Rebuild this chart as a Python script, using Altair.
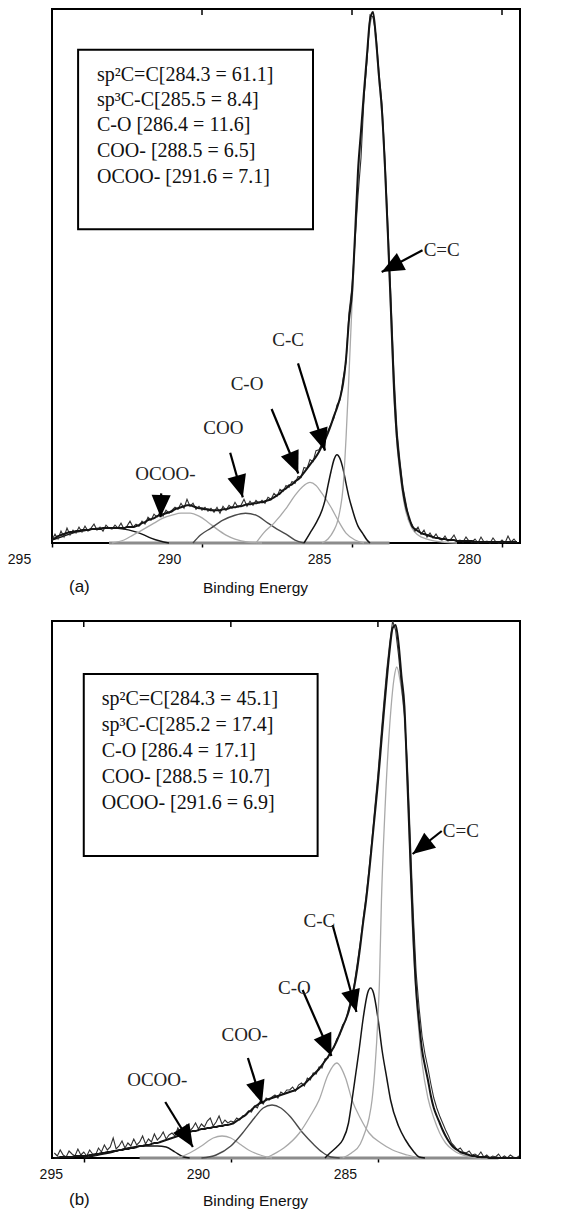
import math
import altair as alt
import pandas as pd

# ---------------- Panel (a) ----------------
A_DOMAIN = [295.0, 279.4]
A_YMAX = 538
energy_a = [round(295.0 - 0.1 * i, 1) for i in range(156)]
envelope_a = [
    4, 5, 7, 8, 9, 10, 11, 11, 12, 12,
    13, 13, 13, 14, 14, 14, 14, 15, 15, 15,
    15, 15, 15, 15, 15, 16, 16, 16, 17, 18,
    20, 21, 23, 24, 25, 27, 28, 29, 30, 31,
    32, 34, 35, 36, 37, 38, 38, 37, 36, 35,
    35, 34, 34, 33, 33, 33, 33, 34, 34, 35,
    36, 36, 37, 37, 38, 39, 39, 40, 40, 41,
    41, 42, 43, 44, 46, 48, 50, 53, 55, 58,
    59, 62, 64, 67, 71, 75, 79, 83, 87, 92,
    98, 104, 111, 119, 128, 136, 146, 160, 185, 225,
    252, 310, 375, 415, 455, 492, 527, 535, 508, 470,
    435, 378, 308, 232, 155, 105, 76, 52, 36, 26,
    17, 14, 12, 10, 9, 8, 7, 6, 5, 5,
    4, 4, 3, 3, 3, 2, 2, 2, 2, 2,
    2, 1, 1, 1, 1, 1, 1, 1, 1, 1,
    1, 1, 1, 1, 1, 1,
]
raw_a = [
    3, 9, 4, 12, 6, 15, 8, 13, 10, 16,
    11, 17, 12, 15, 19, 13, 16, 12, 18, 15,
    14, 18, 15, 20, 14, 17, 22, 16, 19, 17,
    22, 19, 26, 23, 29, 26, 31, 27, 33, 30,
    33, 36, 34, 40, 35, 44, 37, 40, 34, 37,
    33, 36, 32, 35, 31, 36, 30, 37, 33, 38,
    35, 41, 36, 38, 44, 37, 42, 38, 43, 40,
    43, 40, 46, 44, 50, 47, 54, 52, 58, 56,
    62, 60, 67, 66, 76, 75, 84, 82, 93, 94,
    100, 106, 113, 120, 126, 139, 144, 165, 182, 232,
    258, 304, 350, 388, 448, 486, 532, 530, 512, 474,
    442, 386, 318, 246, 170, 113, 82, 56, 40, 24,
    19, 12, 16, 9, 13, 6, 10, 5, 9, 4,
    3, 7, 2, 4, 8, 2, 3, 1, 6, 2,
    1, 4, 0, 6, 1, 2, 0, 5, 1, 0,
    3, 0, 7, 1, 4, 0,
]
cc_a_E = [286.0, 285.8, 285.6, 285.5, 285.4, 285.3, 285.2, 285.1, 285.0,
          284.9, 284.8, 284.7, 284.6, 284.5, 284.4, 284.3, 284.2, 284.1, 284.0,
          283.9, 283.8, 283.7, 283.6, 283.5, 283.4, 283.3, 283.2,
          283.0, 282.8, 282.5, 282.0, 281.5]
cc_a_h = [0, 4, 13, 20, 33, 55, 105, 170, 240,
          300, 365, 410, 450, 488, 522, 530, 503, 466, 430,
          374, 304, 228, 151, 100, 70, 47, 31,
          15, 8, 4, 1, 0]
csp3_a_E = [286.6, 286.4, 286.2, 286.0, 285.9, 285.8, 285.7, 285.6, 285.5, 285.4,
            285.3, 285.2, 285.1, 285.0, 284.9, 284.8, 284.65, 284.5, 284.4]
csp3_a_h = [0, 10, 20, 33, 43, 58, 72, 84, 89, 85, 75, 60, 46, 35, 25, 17, 10, 3, 0]
co_a_E = [288.2, 287.95, 287.6, 287.17, 286.9, 286.6, 286.4, 286.2, 286.0, 285.7,
          285.45, 285.2, 284.9, 284.6]
co_a_h = [0, 10, 20, 36, 48, 58, 61, 58, 50, 36, 22, 10, 3, 0]
coo_a_E = [290.3, 290.05, 289.7, 289.3, 288.9, 288.55, 288.2, 287.8, 287.5, 287.2, 286.9, 286.6]
coo_a_h = [0, 8, 15, 23, 28, 30, 28, 20, 14, 9, 3, 0]
ocoo_a_E = [293.0, 292.6, 292.3, 292.0, 291.6, 291.3, 291.0, 290.7, 290.4, 290.1,
            289.8, 289.5, 289.2, 288.9, 288.5, 288.0]
ocoo_a_h = [0, 3, 8, 13, 20, 25, 28, 30, 30, 27, 21, 14, 8, 4, 1, 0]
hump_a_E = [295.0, 294.6, 294.2, 293.8, 293.4, 293.0, 292.6, 292.3, 292.0, 291.7, 291.4, 291.1]
hump_a_h = [3, 7, 11, 13, 15, 15, 14, 12, 9, 5, 2, 0]
base_a_E = [293.1, 283.75]

legend_a = ["sp\u00b2C=C[284.3 = 61.1]", "sp\u00b3C-C[285.5 = 8.4]", "C-O [286.4 = 11.6]",
            "COO- [288.5 = 6.5]", "OCOO- [291.6 = 7.1]"]
legend_a_E = 293.5
legend_a_h = [472, 446, 421, 395, 369]
box_a = [294.13, 286.30, 497, 316]

arrow_a_names = ["C=C", "C-C", "C-O", "COO", "OCOO-"]
arrow_a_tail = [(282.65, 295), (286.80, 181), (287.68, 135), (289.06, 91), (291.36, 50)]
arrow_a_tip = [(284.01, 273), (285.90, 93), (286.79, 70), (288.64, 46), (291.38, 26)]
label_a_pos = [(282.01, 295), (287.13, 205), (288.50, 160), (289.29, 116), (291.22, 70)]

# ---------------- Panel (b) ----------------
B_DOMAIN = [296.08, 280.17]
B_YMAX = 537
energy_b = [round(296.0 - 0.1 * i, 1) for i in range(159)]
envelope_b = [
    0, 0, 1, 1, 1, 1, 1, 2, 2, 2,
    2, 2, 3, 3, 4, 4, 5, 5, 6, 6,
    7, 7, 8, 8, 9, 9, 10, 10, 11, 12,
    12, 13, 13, 14, 15, 15, 16, 17, 18, 19,
    20, 21, 22, 23, 24, 25, 26, 27, 27, 28,
    29, 29, 30, 30, 31, 31, 32, 32, 33, 33,
    34, 35, 37, 39, 41, 43, 46, 48, 51, 53,
    55, 56, 58, 59, 60, 61, 62, 63, 64, 65,
    66, 67, 68, 70, 72, 74, 77, 80, 83, 86,
    89, 93, 97, 101, 106, 111, 117, 124, 131, 138,
    146, 158, 172, 190, 212, 236, 258, 285, 315, 345,
    375, 410, 445, 478, 508, 530, 533, 515, 482, 452,
    378, 300, 225, 168, 135, 108, 92, 78, 62, 50,
    42, 35, 28, 22, 17, 13, 10, 8, 6, 5,
    4, 3, 2, 2, 1, 1, 1, 1, 0, 0,
    0, 0, 0, 0, 0, 0, 0, 0, 0,
]
raw_b = [
    5, 2, 8, 3, 1, 7, 4, 2, 9, 3,
    6, 2, 8, 4, 3, 10, 6, 13, 8, 11,
    20, 9, 12, 17, 10, 15, 12, 19, 13, 16,
    22, 14, 19, 16, 24, 18, 21, 26, 19, 23,
    25, 22, 30, 24, 28, 33, 27, 30, 35, 29,
    34, 31, 37, 40, 32, 36, 42, 34, 38, 35,
    37, 36, 40, 38, 42, 43, 47, 46, 52, 50,
    57, 54, 60, 58, 61, 63, 60, 66, 64, 68,
    68, 71, 67, 73, 75, 72, 80, 78, 85, 84,
    91, 90, 99, 100, 108, 110, 119, 123, 133, 137,
    149, 160, 175, 195, 216, 240, 263, 290, 320, 352,
    384, 420, 455, 488, 515, 537, 528, 503, 472, 444,
    395, 320, 245, 185, 150, 122, 104, 90, 74, 60,
    50, 42, 35, 28, 22, 15, 12, 8, 10, 6,
    5, 7, 3, 4, 2, 6, 1, 3, 0, 2,
    1, 4, 0, 2, 0, 3, 1, 0, 2,
]
cc_b_E = [286.2, 285.9, 285.6, 285.45, 285.3, 285.2, 285.1, 285.0,
          284.95, 284.88, 284.76, 284.56, 284.45, 284.36, 284.25, 284.12,
          283.95, 283.84, 283.67, 283.5, 283.3, 283.1,
          282.9, 282.7, 282.4, 282.0, 281.5]
cc_b_h = [0, 5, 14, 25, 40, 58, 90, 140,
          175, 258, 348, 448, 480, 491, 478, 448,
          340, 240, 150, 95, 60, 40,
          25, 15, 7, 2, 0]
csp3_b_E = [286.8, 286.63, 286.4, 286.2, 286.0, 285.88, 285.75, 285.64, 285.5, 285.35,
            285.25, 285.15, 285.0, 284.86, 284.7, 284.57, 284.3, 284.06, 283.8, 283.6, 283.4]
csp3_b_h = [0, 5, 11, 18, 35, 58, 85, 108, 140, 165, 170, 165, 140, 108, 80, 58, 32, 18, 7, 1, 0]
co_b_E = [288.8, 288.6, 288.2, 287.67, 287.3, 287.0, 286.7, 286.4, 286.1, 285.88,
          285.6, 285.3, 284.9, 284.5, 284.0, 283.6]
co_b_h = [0, 3, 10, 25, 42, 58, 83, 95, 80, 58, 40, 25, 15, 8, 3, 0]
coo_b_E = [291.0, 290.5, 290.0, 289.6, 289.2, 288.9, 288.6, 288.3, 288.0, 287.55, 287.2, 286.9, 286.6, 286.3]
coo_b_h = [0, 3, 12, 25, 40, 50, 53, 50, 42, 25, 14, 6, 1, 0]
ocoo_b_E = [291.8, 291.4, 291.0, 290.6, 290.3, 290.0, 289.7, 289.4, 289.0, 288.6]
ocoo_b_h = [0, 5, 12, 20, 22, 20, 14, 8, 3, 0]
hump_b_E = [295.0, 294.5, 294.0, 293.5, 293.0, 292.5, 292.2, 291.9, 291.6, 291.4]
hump_b_h = [0, 3, 6, 10, 12, 12, 11, 6, 1, 0]
base_b_E = [293.1, 280.9]

legend_b = ["sp\u00b2C=C[284.3 = 45.1]", "sp\u00b3C-C[285.2 = 17.4]", "C-O [286.4 = 17.1]",
            "COO- [288.5 = 10.7]", "OCOO- [291.6 = 6.9]"]
legend_b_E = 294.39
legend_b_h = [459, 433, 407, 381, 355]
box_b = [295.0, 287.05, 484, 302]

arrow_b_names = ["C=C", "C-C", "C-O", "COO-", "OCOO-"]
arrow_b_tail = [(282.83, 327), (286.54, 233), (287.56, 168), (289.42, 100), (292.23, 56)]
arrow_b_tip = [(283.82, 304), (285.73, 146), (286.58, 102), (288.94, 55), (291.29, 11)]
label_b_pos = [(282.18, 327), (286.99, 237), (287.84, 170), (289.53, 123), (292.50, 78)]

AXIS_TICKS = [295, 290, 285, 280]

DARK = "#141414"
MID = "#4a4a4a"
LIGHT = "#a9a9a9"
HEAD = "M0,0L0.75,1.75L-0.75,1.75Z"
W = 468


def panel(dom, ymax, H, energy, env, raw, comps, base_E, legend, legend_E, legend_h, box,
          names, tails, tips, label_pos, tag, title_y):
    lo, hi = min(dom), max(dom)
    bottom_vals = [v for v in AXIS_TICKS if lo <= v <= hi]
    top_vals = [v for v in AXIS_TICKS if lo < v < hi]

    ax = alt.Axis(values=bottom_vals, format="d", tickSize=4, tickWidth=1.5,
                  tickColor="black", domain=False, grid=False, labelOffset=-33,
                  labelFlush=False, labelPadding=5, labelFont="Liberation Sans",
                  labelFontSize=14, labelColor="#111", title="Binding Energy",
                  titleFont="Liberation Sans", titleFontSize=15.5,
                  titleFontWeight="normal", titleColor="#111", titleX=203,
                  titleY=title_y, titleBaseline="middle", titleAlign="center")

    def X(field="E"):
        return alt.X(f"{field}:Q", scale=alt.Scale(domain=dom, nice=False, zero=False), axis=ax)

    def Y(field="h"):
        return alt.Y(f"{field}:Q", scale=alt.Scale(domain=[0, ymax], nice=False, zero=False), axis=None)

    rows = []
    for name, (Es, hs, col, sw) in comps.items():
        for e, h in zip(Es, hs):
            rows.append({"E": e, "h": h, "name": name, "col": col, "sw": sw})
    comp_df = pd.DataFrame(rows)
    comp_layer = alt.Chart(comp_df).mark_line(interpolate="monotone").encode(
        x=X(), y=Y(), detail="name:N",
        color=alt.Color("col:N", scale=None),
        strokeWidth=alt.StrokeWidth("sw:Q", scale=None),
    )

    base_df = pd.DataFrame({"E": base_E, "h": [0] * len(base_E)})
    base_layer = alt.Chart(base_df).mark_line(color="#8c8c8c", strokeWidth=3).encode(x=X(), y=Y())

    raw_df = pd.DataFrame({"E": energy, "h": raw})
    raw_layer = alt.Chart(raw_df).mark_line(color="#303030", strokeWidth=1.1).encode(x=X(), y=Y())

    env_df = pd.DataFrame({"E": energy, "h": env})
    env_layer = alt.Chart(env_df).mark_line(color=DARK, strokeWidth=2.0, interpolate="monotone").encode(
        x=X(), y=Y())

    box_df = pd.DataFrame({"E": [box[0]], "E2": [box[1]], "h": [box[2]], "h2": [box[3]]})
    box_layer = alt.Chart(box_df).mark_rect(fill="white", stroke="black", strokeWidth=2).encode(
        x=X(), x2="E2:Q", y=Y(), y2="h2:Q")

    leg_df = pd.DataFrame({"E": [legend_E] * len(legend), "h": legend_h, "t": legend})
    leg_layer = alt.Chart(leg_df).mark_text(align="left", baseline="middle", font="Liberation Serif",
                                            fontSize=20, color="#111").encode(x=X(), y=Y(), text="t:N")

    def px(e, h):
        return ((dom[0] - e) / (dom[0] - dom[1]) * W, H - h / ymax * H)

    arr_rows = []
    for n, t, p in zip(names, tails, tips):
        x0, y0 = px(*t)
        x1, y1 = px(*p)
        ang = math.degrees(math.atan2(x1 - x0, -(y1 - y0))) % 360
        arr_rows.append({"E": t[0], "h": t[1], "E2": p[0], "h2": p[1], "ang": ang})
    arr_df = pd.DataFrame(arr_rows)
    shaft = alt.Chart(arr_df).mark_rule(color="black", strokeWidth=2.2).encode(
        x=X(), x2="E2:Q", y=Y(), y2="h2:Q")
    head = alt.Chart(arr_df).mark_point(shape=HEAD, filled=True, color="black", opacity=1,
                                        size=650, strokeWidth=0).encode(
        x=X("E2"), y=Y("h2"), angle=alt.Angle("ang:Q", scale=None))

    lab_df = pd.DataFrame({"E": [p[0] for p in label_pos], "h": [p[1] for p in label_pos], "t": names})
    lab_layer = alt.Chart(lab_df).mark_text(align="center", baseline="middle", font="Liberation Serif",
                                            fontSize=19, color="#222").encode(x=X(), y=Y(), text="t:N")

    tick_df = pd.DataFrame({"E": top_vals})
    top_ticks = alt.Chart(tick_df).mark_rule(color="black", strokeWidth=1.5).encode(
        x=X(), y=alt.value(0), y2=alt.value(6))

    tag_df = pd.DataFrame({"t": [tag]})
    tag_layer = alt.Chart(tag_df).mark_text(align="left", baseline="middle", font="Liberation Sans",
                                            fontSize=17, color="#111").encode(
        x=alt.value(17), y=alt.value(H + title_y), text="t:N")

    return alt.layer(base_layer, comp_layer, raw_layer, env_layer, box_layer, leg_layer,
                     shaft, head, lab_layer, top_ticks, tag_layer).properties(width=W, height=H)


comps_a = {
    "hump": (hump_a_E, hump_a_h, DARK, 1.4),
    "OCOO": (ocoo_a_E, ocoo_a_h, LIGHT, 1.3),
    "COO": (coo_a_E, coo_a_h, MID, 1.4),
    "C-O": (co_a_E, co_a_h, LIGHT, 1.3),
    "C-C": (csp3_a_E, csp3_a_h, DARK, 1.5),
    "C=C": (cc_a_E, cc_a_h, LIGHT, 1.3),
}
comps_b = {
    "hump": (hump_b_E, hump_b_h, DARK, 1.4),
    "OCOO": (ocoo_b_E, ocoo_b_h, LIGHT, 1.3),
    "COO": (coo_b_E, coo_b_h, MID, 1.4),
    "C-O": (co_b_E, co_b_h, LIGHT, 1.3),
    "C-C": (csp3_b_E, csp3_b_h, DARK, 1.5),
    "C=C": (cc_b_E, cc_b_h, LIGHT, 1.3),
}

pa = panel(A_DOMAIN, A_YMAX, 534, energy_a, envelope_a, raw_a, comps_a, base_a_E,
           legend_a, legend_a_E, legend_a_h, box_a, arrow_a_names, arrow_a_tail, arrow_a_tip,
           label_a_pos, "(a)", 44)
pb = panel(B_DOMAIN, B_YMAX, 537, energy_b, envelope_b, raw_b, comps_b, base_b_E,
           legend_b, legend_b_E, legend_b_h, box_b, arrow_b_names, arrow_b_tail, arrow_b_tip,
           label_b_pos, "(b)", 42)

chart = alt.vconcat(pa, pb, spacing=78, bounds="flush").resolve_scale(
    x="independent", y="independent"
).configure_view(stroke="black", strokeWidth=2).properties(
    padding={"left": -2, "top": -2, "right": 4, "bottom": 2}, background="white"
)

chart.save("out.html", embed_options={"renderer": "svg", "actions": False})
